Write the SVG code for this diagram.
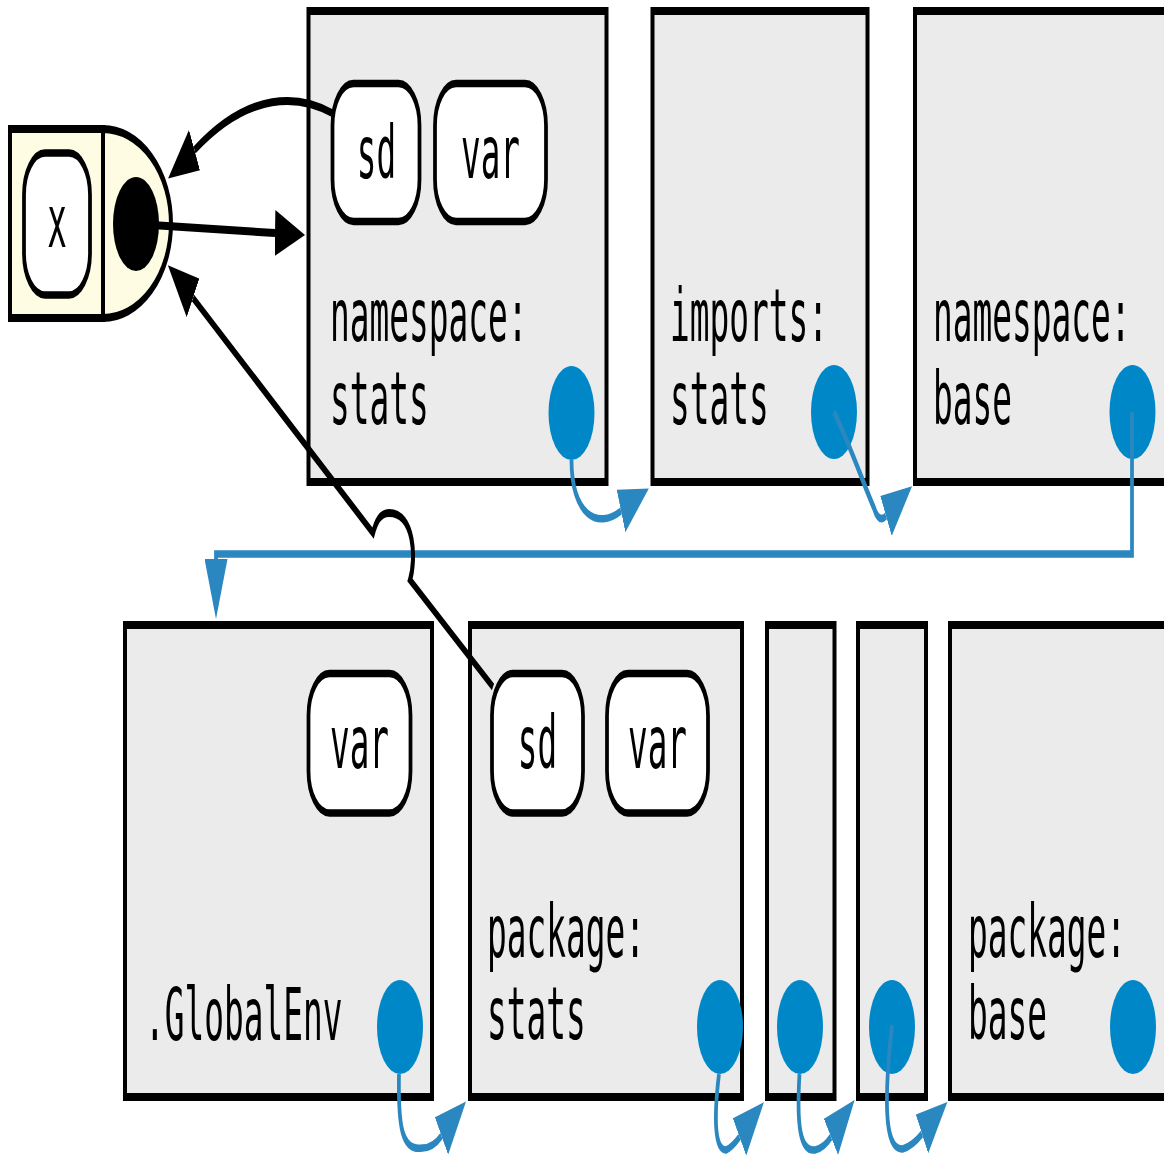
<svg xmlns="http://www.w3.org/2000/svg" width="1164" height="1158" viewBox="0 0 1164 1158">
  <defs>
    <style>
      .frame{fill:#ebebeb;stroke:#000;stroke-width:8;stroke-linejoin:miter}
      .pill{fill:#fff;stroke:#000;stroke-width:7.5}
      .bind{fill:#fefde3;stroke:#000;stroke-width:8}
      .lbl{font-family:"DejaVu Sans Mono","Liberation Mono",monospace;font-size:73px;fill:#000}
      .mid{text-anchor:middle}
      .env{fill:#0087c8}
      .blue{fill:none;stroke:#2b87bf;stroke-width:7.5}
      .black{fill:none;stroke:#000;stroke-width:8}
    </style>
    <marker id="ah-black" markerUnits="userSpaceOnUse" viewBox="0 -23 60 46" markerWidth="60" markerHeight="46" refX="0" refY="0" orient="auto">
      <path d="M0,-23 L60,0 L0,23 Z" fill="#000"/>
    </marker>
    <marker id="ah-blue" markerUnits="userSpaceOnUse" viewBox="0 -23 60 46" markerWidth="60" markerHeight="46" refX="0" refY="0" orient="auto">
      <path d="M0,-23 L60,0 L0,23 Z" fill="#2b87bf"/>
    </marker>
  </defs>

  <!-- drawing is laid out at double width and squeezed horizontally -->
  <g transform="scale(0.5,1)">

    <!-- binding: x -->
    <g id="binding-x">
      <rect class="bind" x="20" y="129" width="186" height="189"/>
      <path class="bind" d="M206,129 A136,94.5 0 0 1 206,318 Z"/>
      <rect class="pill" x="48" y="153" width="132" height="142" rx="42" ry="42"/>
      <text class="lbl mid" x="114" y="247" textLength="39.3" lengthAdjust="spacingAndGlyphs">x</text>
      <ellipse cx="272" cy="224" rx="46" ry="47" fill="#000"/>
    </g>

    <!-- top row -->
    <g id="namespace-stats">
      <rect class="frame" x="617" y="11" width="596" height="471"/>
      <rect class="pill" x="665" y="83.5" width="174" height="138" rx="42" ry="42"/>
      <text class="lbl mid" x="753" y="178" textLength="78.6" lengthAdjust="spacingAndGlyphs">sd</text>
      <rect class="pill" x="870" y="83.5" width="222" height="138" rx="42" ry="42"/>
      <text class="lbl mid" x="981" y="178" textLength="117.9" lengthAdjust="spacingAndGlyphs">var</text>
      <text class="lbl" x="660" y="341" textLength="395" lengthAdjust="spacingAndGlyphs">namespace:</text>
      <text class="lbl" x="660" y="424" textLength="197.5" lengthAdjust="spacingAndGlyphs">stats</text>
      <ellipse class="env" cx="1143" cy="413" rx="46" ry="47"/>
    </g>

    <g id="imports-stats">
      <rect class="frame" x="1305" y="11" width="430" height="471"/>
      <text class="lbl" x="1340" y="341" textLength="316" lengthAdjust="spacingAndGlyphs">imports:</text>
      <text class="lbl" x="1340" y="424" textLength="197.5" lengthAdjust="spacingAndGlyphs">stats</text>
      <ellipse class="env" cx="1668" cy="412" rx="46" ry="47"/>
    </g>

    <g id="namespace-base">
      <rect class="frame" x="1830" y="11" width="600" height="471"/>
      <text class="lbl" x="1866" y="341" textLength="395" lengthAdjust="spacingAndGlyphs">namespace:</text>
      <text class="lbl" x="1866" y="424" textLength="158" lengthAdjust="spacingAndGlyphs">base</text>
      <ellipse class="env" cx="2265" cy="412" rx="46" ry="47"/>
    </g>

    <!-- bottom row -->
    <g id="global-env">
      <rect class="frame" x="250" y="625" width="614" height="472"/>
      <rect class="pill" x="617" y="673.5" width="204" height="139.5" rx="42" ry="42"/>
      <text class="lbl mid" x="719" y="768" textLength="117.9" lengthAdjust="spacingAndGlyphs">var</text>
      <text class="lbl" x="290" y="1040" textLength="395" lengthAdjust="spacingAndGlyphs">.GlobalEnv</text>
      <ellipse class="env" cx="800" cy="1027" rx="46" ry="47"/>
    </g>

    <g id="package-stats">
      <rect class="frame" x="940" y="625" width="544" height="472"/>
      <rect class="pill" x="984" y="673.5" width="182" height="139.5" rx="42" ry="42"/>
      <text class="lbl mid" x="1075" y="768" textLength="78.6" lengthAdjust="spacingAndGlyphs">sd</text>
      <rect class="pill" x="1214" y="673.5" width="202" height="139.5" rx="42" ry="42"/>
      <text class="lbl mid" x="1315" y="768" textLength="117.9" lengthAdjust="spacingAndGlyphs">var</text>
      <text class="lbl" x="974" y="957" textLength="316" lengthAdjust="spacingAndGlyphs">package:</text>
      <text class="lbl" x="974" y="1039" textLength="197.5" lengthAdjust="spacingAndGlyphs">stats</text>
      <ellipse class="env" cx="1440" cy="1027" rx="46" ry="47"/>
    </g>

    <g id="package-1">
      <rect class="frame" x="1534" y="625" width="135" height="472"/>
      <ellipse class="env" cx="1600" cy="1027" rx="46" ry="47"/>
    </g>

    <g id="package-2">
      <rect class="frame" x="1716" y="625" width="136" height="472"/>
      <ellipse class="env" cx="1784" cy="1027" rx="46" ry="47"/>
    </g>

    <g id="package-base">
      <rect class="frame" x="1900" y="625" width="530" height="472"/>
      <text class="lbl" x="1936" y="957" textLength="316" lengthAdjust="spacingAndGlyphs">package:</text>
      <text class="lbl" x="1936" y="1039" textLength="158" lengthAdjust="spacingAndGlyphs">base</text>
      <ellipse class="env" cx="2266" cy="1027" rx="46" ry="47"/>
    </g>

    <!-- connectors -->
    <g id="connectors">
      <!-- parent chain -->
      <path class="blue" marker-end="url(#ah-blue)" d="M1143,460 C1143,515 1195,530 1242,511"/>
      <path class="blue" marker-end="url(#ah-blue)" d="M1668,412 C1700,445 1728,485 1748,508 Q1758,524 1772,516"/>
      <path class="blue" marker-end="url(#ah-blue)" d="M2264,412 V554 H432 V559"/>
      <path class="blue" marker-end="url(#ah-blue)" d="M798,1074 C796,1125 803,1152 845,1148 Q866,1148 883,1136"/>
      <path class="blue" marker-end="url(#ah-blue)" d="M1438,1074 C1427,1120 1430,1150 1452,1150 Q1465,1147 1479,1137"/>
      <path class="blue" marker-end="url(#ah-blue)" d="M1599,1074 C1593,1125 1600,1152 1630,1150 Q1648,1148 1662,1137"/>
      <path class="blue" marker-end="url(#ah-blue)" d="M1784,1025 C1770,1090 1765,1150 1805,1149 Q1825,1146 1844,1134"/>

      <!-- bindings -->
      <path class="black" marker-end="url(#ah-black)" d="M272,224 L550,233"/>
      <path class="black" marker-end="url(#ah-black)" d="M664,113 C600,95 500,90 389,150"/>
      <path class="black" marker-end="url(#ah-black)" d="M986,687 L820,580 C832,560 830,513 778,513 C760,513 752,522 746,533 L386,298"/>
    </g>
  </g>
</svg>
